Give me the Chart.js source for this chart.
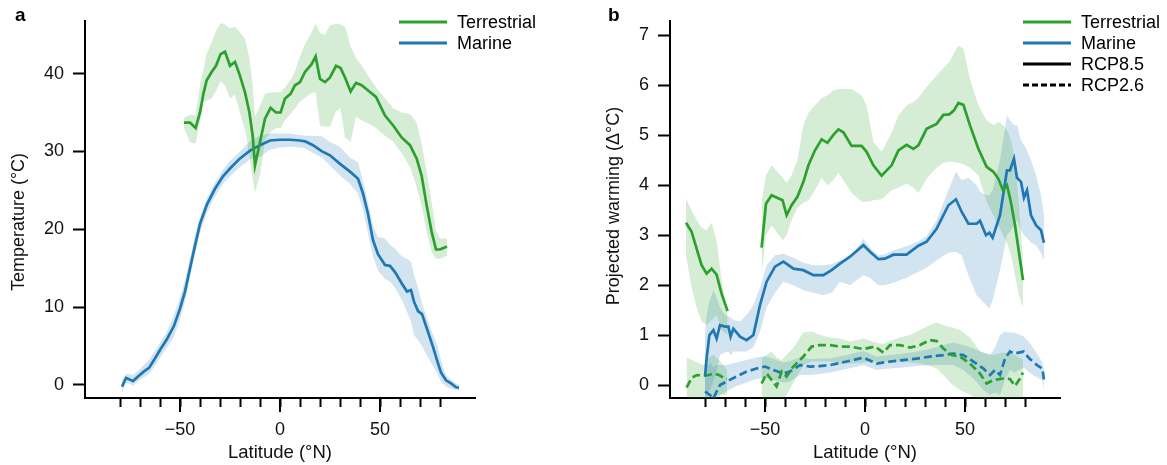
<!DOCTYPE html>
<html>
<head>
<meta charset="utf-8">
<script src="https://cdn.jsdelivr.net/npm/chart.js@4.4.1/dist/chart.umd.min.js"></script>
<style>
  body { margin: 0; background: #fff; }
  .panel { position: absolute; top: 0; height: 465px; }
  #wrapA { left: 0; width: 583px; }
  #wrapB { left: 583px; width: 584px; }
</style>
</head>
<body>
<div class="panel" id="wrapA"><canvas id="chartA"></canvas></div>
<div class="panel" id="wrapB"><canvas id="chartB"></canvas></div>
<script>
// ---- axis ticks ----
const latTicks = [-80, -70, -60, -50, -40, -30, -20, -10, 0, 10, 20, 30, 40, 50, 60, 70, 80];
const majorLat = [-50, 0, 50];
const tempTicks = [0, 10, 20, 30, 40];
const warmTicks = [0, 1, 2, 3, 4, 5, 6, 7];

// ---- panel a: present-day temperature ----
const latMarineA = [-79, -77, -75.5, -73.5, -71, -68, -65.5, -63, -60, -56.5, -53, -50, -47.5, -45, -42.5, -40, -36.5, -32.5, -28.5, -25, -20, -15, -10, -5, 0, 5, 10, 12.5, 16.5, 21, 25, 30, 35, 39, 41.5, 44, 46.5, 49, 52.5, 55, 57.5, 61, 63.5, 65.5, 67, 69, 71, 73.5, 76.5, 78.5, 80.5, 83, 85.5, 88, 89.5];
const marineA = [-0.2, 0.9, 0.75, 0.5, 1.1, 1.75, 2.2, 3.2, 4.5, 5.9, 7.6, 9.8, 12.0, 15.0, 17.9, 20.7, 23.2, 25.2, 26.8, 27.8, 29.1, 30.1, 30.8, 31.4, 31.5, 31.5, 31.4, 31.3, 30.8, 30.0, 29.5, 28.4, 27.4, 26.5, 24.6, 22.0, 18.6, 16.8, 15.4, 15.3, 14.5, 13.0, 12.0, 12.2, 10.7, 9.5, 9.1, 7.2, 4.9, 3.2, 1.6, 0.6, 0.2, -0.3, -0.35];
const marineAHi = [0.5, 1.4, 1.4, 1.3, 1.8, 2.6, 3.2, 4.2, 5.4, 6.9, 9.0, 11.2, 13.5, 16.2, 19.2, 21.6, 24.0, 26.0, 27.6, 28.8, 30.0, 31.3, 32.0, 32.3, 32.3, 32.3, 32.1, 32.0, 32.0, 31.9, 31.2, 30.6, 29.2, 28.6, 26.2, 23.4, 20.5, 19.0, 18.8, 18.0, 17.5, 16.5, 16.2, 15.8, 14.2, 12.5, 10.5, 8.5, 6.5, 5.2, 3.2, 1.2, 0.7, 0.2, 0.0];
const marineALo = [-1.0, 0.3, 0.2, -0.1, 0.5, 1.0, 1.4, 2.3, 3.5, 4.8, 6.2, 8.4, 10.8, 13.8, 16.8, 19.6, 22.2, 24.2, 25.8, 26.8, 28.0, 29.0, 29.3, 30.2, 30.5, 30.6, 30.5, 30.4, 29.8, 29.2, 28.2, 26.9, 25.8, 24.6, 22.5, 19.5, 16.5, 14.7, 13.6, 13.3, 12.5, 10.9, 9.4, 8.2, 6.4, 5.8, 5.0, 3.8, 2.4, 1.6, 0.4, -0.2, -0.5, -0.6, -0.6];

const latTerrA = [-48, -45, -42.2, -40, -38.3, -36.7, -34.2, -32, -29.7, -27.5, -25, -22.5, -20, -17.5, -15.3, -13.7, -12.5, -10, -7.5, -4.7, -2, 0.3, 2.5, 5.3, 7.5, 10, 12.5, 15.8, 17.8, 20, 22.5, 25, 28, 30.3, 32.5, 35.3, 38, 40.8, 44.2, 48, 52.5, 56.7, 60.8, 65, 68.3, 70.8, 73.3, 75.8, 78, 80, 83.5];
const terrA = [33.7, 33.7, 33.0, 35.0, 37.4, 39.1, 40.2, 41.0, 42.5, 42.8, 41.0, 41.5, 39.7, 37.6, 35.0, 32.1, 28.2, 31.2, 34.2, 35.6, 35.0, 35.0, 36.8, 37.4, 38.5, 38.9, 40.2, 41.2, 42.2, 39.3, 38.9, 39.5, 41.0, 40.7, 39.5, 37.7, 38.8, 38.5, 37.8, 37.0, 34.6, 33.3, 31.8, 30.8, 29.1, 26.9, 23.1, 19.7, 17.4, 17.4, 17.8];
const terrAHi = [34.3, 34.7, 34.6, 38.5, 40.5, 42.5, 44.0, 45.5, 46.5, 46.3, 45.8, 46.0, 45.3, 44.5, 42.0, 38.5, 34.5, 35.8, 37.4, 37.6, 37.6, 37.6, 38.2, 39.2, 40.3, 42.2, 43.8, 45.3, 46.4, 45.2, 45.0, 46.2, 46.4, 46.3, 46.0, 43.5, 42.0, 41.0, 39.7, 38.2, 36.8, 35.5, 35.0, 34.8, 33.7, 31.0, 27.5, 23.5, 19.8, 18.8, 18.8];
const terrALo = [33.0, 31.2, 31.0, 33.8, 36.3, 36.5, 36.8, 37.8, 39.0, 38.5, 36.8, 37.3, 35.0, 32.8, 29.5, 26.5, 24.7, 27.0, 31.5, 32.5, 33.0, 33.0, 34.0, 34.8, 35.5, 36.4, 36.9, 37.5, 37.6, 33.3, 33.2, 33.2, 35.2, 35.5, 31.8, 31.2, 34.5, 34.0, 33.6, 33.0, 32.0, 31.2, 29.8, 28.0, 25.5, 23.0, 19.7, 17.1, 16.2, 16.2, 16.6];

// ---- panel b: projected warming ----
const latTerr85 = [-89.5, -86.7, -84.2, -81.7, -79.2, -76.7, -74.2, -71.7, -68.7, -60, -51.7, -49.5, -46.7, -41.2, -39.2, -36.7, -33.8, -30.8, -28.3, -25, -21.7, -18.8, -15.8, -13.3, -10.8, -6.7, -1.7, 0.8, 4.2, 8.3, 13.3, 16.7, 20.8, 24.2, 26.7, 30.8, 35.8, 39.2, 42.2, 44.5, 46.7, 49.2, 52.5, 56.7, 60.8, 64.2, 66.7, 69, 71, 73, 75, 77, 79];
const terr85 = [3.25, 3.07, 2.73, 2.4, 2.23, 2.33, 2.21, 1.83, 1.48, null, 2.75, 3.63, 3.8, 3.7, 3.4, 3.6, 3.77, 4.07, 4.4, 4.7, 4.92, 4.85, 5.01, 5.12, 5.06, 4.79, 4.79, 4.67, 4.4, 4.19, 4.4, 4.7, 4.81, 4.73, 4.8, 5.13, 5.23, 5.41, 5.42, 5.5, 5.65, 5.61, 5.2, 4.73, 4.37, 4.27, 4.13, 3.9, 4.0, 3.65, 3.2, 2.65, 2.1];
const terr85Hi = [3.73, 3.5, 3.3, 3.15, 3.1, 3.25, 2.9, 2.1, 1.4, null, 3.67, 4.2, 4.4, 4.15, 4.05, 4.2, 4.5, 5.2, 5.45, 5.6, 5.75, 5.8, 5.9, 5.93, 5.93, 5.93, 5.8, 5.6, 4.87, 4.67, 5.05, 5.4, 5.6, 5.67, 5.75, 5.97, 6.2, 6.35, 6.47, 6.65, 6.8, 6.73, 6.13, 5.6, 5.3, 5.2, 5.27, 5.2, 5.1, 4.9, 4.5, 3.6, 2.5];
const terr85Lo = [2.6, 1.95, 1.55, 1.27, 1.2, 1.3, 1.4, 1.1, 1.0, null, 2.2, 3.0, 3.2, 2.9, 3.0, 3.3, 3.55, 3.65, 3.7, 3.9, 4.15, 4.0, 4.1, 4.25, 4.1, 3.85, 3.67, 3.67, 3.7, 3.72, 3.9, 3.95, 4.03, 3.95, 3.85, 4.13, 4.35, 4.45, 4.47, 4.47, 4.45, 4.42, 4.35, 4.2, 3.67, 3.4, 3.2, 3.0, 2.85, 2.6, 2.2, 1.8, 1.55];

const latMar85 = [-80, -79.2, -77.8, -75.8, -74.2, -72.5, -70, -68.3, -67.2, -65.8, -62.5, -59.2, -55.8, -52.5, -49.2, -45, -40.8, -35.8, -30.8, -25.8, -20.8, -16.7, -12.5, -7.5, -0.8, 2.5, 6.7, 10, 14.2, 20.8, 26.7, 30.8, 35.8, 41.7, 45.5, 48.3, 51.7, 55.8, 57.5, 60.5, 62.2, 63.8, 67.5, 71, 72.5, 74.5, 76, 78, 79.5, 81, 83, 85.5, 88, 89.5];
const mar85 = [0.17, 0.53, 1.0, 1.1, 0.93, 1.2, 1.17, 1.17, 0.97, 1.13, 0.97, 0.9, 1.0, 1.6, 2.07, 2.37, 2.47, 2.33, 2.3, 2.2, 2.2, 2.3, 2.43, 2.57, 2.8, 2.67, 2.52, 2.53, 2.61, 2.61, 2.79, 2.87, 3.13, 3.6, 3.72, 3.47, 3.23, 3.23, 3.29, 3.0, 3.05, 2.95, 3.4, 4.3, 4.3, 4.53, 4.15, 4.07, 3.75, 3.9, 3.4, 3.2, 3.1, 2.85];
const mar85Hi = [1.0, 1.4, 1.67, 1.9, 1.75, 1.55, 1.4, 1.37, 1.35, 1.3, 1.27, 1.4, 1.6, 1.95, 2.4, 2.6, 2.63, 2.55, 2.45, 2.4, 2.4, 2.42, 2.5, 2.55, 2.93, 2.75, 2.6, 2.62, 2.7, 2.78, 2.88, 2.98, 3.3, 3.9, 4.27, 4.1, 4.15, 4.0, 3.87, 3.8, 3.8, 3.9, 4.5, 5.4, 5.3, 5.2, 5.2, 4.9, 4.8, 4.7, 4.5, 4.2, 3.8, 3.4];
const mar85Lo = [-0.3, -0.27, -0.1, 0.07, 0.3, 0.6, 0.65, 0.67, 0.6, 0.67, 0.67, 0.67, 0.75, 1.07, 1.55, 1.85, 2.07, 2.0, 1.9, 1.85, 1.8, 1.85, 2.07, 2.0, 2.2, 2.15, 2.0, 2.0, 2.05, 2.15, 2.27, 2.35, 2.5, 2.65, 2.67, 2.6, 2.2, 1.8, 1.73, 1.6, 1.53, 1.7, 2.3, 3.0, 3.07, 3.2, 3.3, 3.1, 3.0, 2.95, 2.85, 2.8, 2.65, 2.5];

const latTerr26 = [-89.2, -86.5, -84, -80.8, -78, -75.8, -73, -70, -69, -60, -51.7, -49.2, -46.7, -44.2, -41.7, -39.2, -35.8, -30.8, -26.7, -22.5, -17.5, -12.5, -7.5, -0.8, 5, 9.2, 12.5, 17.5, 22.5, 27.5, 32.5, 35.8, 39.2, 43.3, 47.5, 52.5, 57.5, 60.8, 64.2, 69.2, 72.5, 75, 77, 79];
const terr26 = [-0.05, 0.15, 0.2, 0.19, 0.2, 0.23, 0.2, 0.13, 0.12, null, 0.03, 0.23, 0.1, -0.03, 0.27, 0.17, 0.37, 0.57, 0.77, 0.8, 0.8, 0.77, 0.77, 0.72, 0.77, 0.65, 0.8, 0.8, 0.75, 0.8, 0.9, 0.88, 0.73, 0.6, 0.57, 0.43, 0.23, 0.03, 0.1, 0.13, 0.12, -0.02, 0.1, 0.25];
const terr26Hi = [0.55, 0.5, 0.45, 0.4, 0.55, 0.6, 0.5, 0.35, 0.3, null, 0.53, 0.6, 0.67, 0.55, 0.5, 0.6, 0.75, 1.05, 1.07, 1.0, 0.95, 0.93, 0.87, 0.93, 0.85, 0.82, 0.88, 0.95, 1.0, 1.1, 1.2, 1.25, 1.2, 1.15, 1.1, 0.95, 0.67, 0.63, 0.6, 0.65, 0.65, 0.6, 0.55, 0.5];
const terr26Lo = [-0.5, -0.4, -0.35, -0.3, -0.3, -0.25, -0.2, -0.2, -0.2, null, -0.4, -0.35, -0.35, -0.35, -0.3, -0.2, 0.05, 0.4, 0.47, 0.47, 0.47, 0.42, 0.43, 0.45, 0.47, 0.45, 0.47, 0.47, 0.45, 0.43, 0.38, 0.33, 0.2, 0.02, -0.1, -0.2, -0.3, -0.35, -0.35, -0.35, -0.35, -0.35, -0.35, -0.3];

const latMar26 = [-80, -77.5, -75.8, -74.2, -72.5, -69.2, -64.2, -59.2, -54.2, -50, -45.8, -40.8, -37.5, -32.5, -27.5, -22.5, -17.5, -9.2, -0.8, 5.8, 12.5, 19.2, 25.8, 32.5, 39.2, 44.2, 49.2, 54.2, 59.2, 62.5, 65, 67.5, 70, 72.5, 74.7, 79.3, 82.2, 86, 88.7, 89.5];
const mar26 = [-0.13, -0.2, -0.27, -0.13, 0.0, 0.07, 0.17, 0.27, 0.33, 0.37, 0.3, 0.23, 0.27, 0.4, 0.37, 0.38, 0.4, 0.47, 0.55, 0.43, 0.47, 0.5, 0.53, 0.57, 0.6, 0.63, 0.6, 0.47, 0.33, 0.2, 0.3, 0.2, 0.53, 0.67, 0.63, 0.67, 0.53, 0.4, 0.33, 0.1];
const mar26Hi = [0.3, 0.45, 0.35, 0.4, 0.4, 0.4, 0.45, 0.5, 0.55, 0.58, 0.52, 0.45, 0.48, 0.55, 0.52, 0.53, 0.53, 0.6, 0.68, 0.57, 0.6, 0.63, 0.67, 0.72, 0.8, 0.85, 0.8, 0.73, 0.65, 0.6, 0.75, 1.0, 1.07, 1.05, 1.05, 0.97, 0.85, 0.63, 0.45, 0.3];
const mar26Lo = [-0.5, -0.45, -0.45, -0.35, -0.2, -0.13, -0.02, 0.05, 0.12, 0.15, 0.1, 0.05, 0.07, 0.2, 0.2, 0.22, 0.25, 0.32, 0.4, 0.3, 0.33, 0.35, 0.38, 0.4, 0.4, 0.4, 0.3, 0.13, -0.1, -0.2, -0.15, -0.2, 0.1, 0.3, 0.25, 0.35, 0.25, 0.15, 0.1, -0.1];

const GREEN = '#2ca02c';
const BLUE = '#1f77b4';
const GREEN_BAND = 'rgba(44, 160, 44, 0.2)';
const BLUE_BAND = 'rgba(31, 119, 180, 0.2)';
const FONT = '"Liberation Sans", Arial, Helvetica, sans-serif';

function pts(lat, vals) {
    return lat.map((x, i) => ({ x: x, y: vals[i] }));
}

function line(lat, vals, color, dash) {
    return {
        data: pts(lat, vals),
        borderColor: color,
        borderWidth: 2.7,
        borderDash: dash || [],
        pointRadius: 0,
        tension: 0,
        fill: false
    };
}

// upper edge fills down to the lower edge that follows it
function band(lat, hi, lo, color) {
    return [
        { data: pts(lat, hi), borderColor: 'transparent', borderWidth: 0, pointRadius: 0, fill: '+1', backgroundColor: color },
        { data: pts(lat, lo), borderColor: 'transparent', borderWidth: 0, pointRadius: 0, fill: false }
    ];
}

// panel letter, y title, legend and the longer major ticks
const overlay = {
    id: 'overlay',
    afterDraw(chart, args, opts) {
        const ctx = chart.ctx;
        ctx.save();
        ctx.fillStyle = '#000';
        ctx.textBaseline = 'middle';
        ctx.font = 'bold 19px ' + FONT;
        ctx.fillText(opts.letter, opts.letterX, 16);

        ctx.font = '18px ' + FONT;
        ctx.save();
        ctx.translate(opts.titleX, opts.titleY);
        ctx.rotate(-Math.PI / 2);
        ctx.textAlign = 'center';
        ctx.fillStyle = '#111';
        ctx.fillText(opts.yTitle, 0, 0);
        ctx.restore();

        opts.items.forEach((item, i) => {
            const y = 22 + i * 21;
            ctx.strokeStyle = item.color;
            ctx.lineWidth = 3;
            ctx.setLineDash(item.dash || []);
            ctx.beginPath();
            ctx.moveTo(opts.legendX, y);
            ctx.lineTo(opts.legendX + 48, y);
            ctx.stroke();
            ctx.fillText(item.text, opts.legendX + 58, y + 1);
        });

        const xs = chart.scales.x;
        ctx.setLineDash([]);
        ctx.strokeStyle = '#000';
        ctx.lineWidth = 2;
        majorLat.forEach(v => {
            const px = Math.round(xs.getPixelForValue(v));
            ctx.beginPath();
            ctx.moveTo(px, xs.top);
            ctx.lineTo(px, xs.top + 14);
            ctx.stroke();
        });
        ctx.restore();
    }
};

function makeChart(id, datasets, yMin, yMax, yTicks, yWidth, padRight, over) {
    return new Chart(document.getElementById(id).getContext('2d'), {
        type: 'line',
        data: { datasets: datasets },
        plugins: [overlay],
        options: {
            responsive: true,
            maintainAspectRatio: false,
            animation: false,
            events: [],
            layout: { padding: { top: 21, right: padRight, bottom: 0, left: 0 } },
            plugins: {
                legend: { display: false },
                tooltip: { enabled: false },
                filler: { drawTime: 'beforeDatasetsDraw' },
                overlay: over
            },
            scales: {
                x: {
                    type: 'linear',
                    min: -97.5,
                    max: 97.5,
                    afterBuildTicks: s => { s.ticks = latTicks.map(v => ({ value: v })); },
                    afterFit: s => { s.height = 67; },
                    ticks: {
                        autoSkip: false,
                        maxRotation: 0,
                        padding: 12,
                        color: '#111',
                        font: { family: FONT, size: 18 },
                        callback: v => majorLat.includes(v) ? (v < 0 ? '\u2212' + Math.abs(v) : String(v)) : ''
                    },
                    grid: { drawOnChartArea: false, tickLength: 9, tickWidth: 2, tickColor: '#000' },
                    border: { color: '#000', width: 2 },
                    title: {
                        display: true,
                        text: 'Latitude (\u00b0N)',
                        color: '#111',
                        font: { family: FONT, size: 18.5 },
                        padding: { top: 0, bottom: 1 }
                    }
                },
                y: {
                    min: yMin,
                    max: yMax,
                    afterBuildTicks: s => { s.ticks = yTicks.map(v => ({ value: v })); },
                    afterFit: s => { s.width = yWidth; },
                    ticks: {
                        padding: 9,
                        color: '#111',
                        font: { family: FONT, size: 18 }
                    },
                    grid: { drawOnChartArea: false, tickLength: 12, tickWidth: 2, tickColor: '#000' },
                    border: { color: '#000', width: 2 }
                }
            }
        }
    });
}

document.addEventListener('DOMContentLoaded', function () {
    const dsA = [
        line(latTerrA, terrA, GREEN),
        line(latMarineA, marineA, BLUE),
        ...band(latTerrA, terrAHi, terrALo, GREEN_BAND),
        ...band(latMarineA, marineAHi, marineALo, BLUE_BAND)
    ];
    makeChart('chartA', dsA, -1.67, 46.75, tempTicks, 85, 108, {
        letter: 'a', letterX: 15, legendX: 399,
        yTitle: 'Temperature (\u00b0C)', titleX: 19, titleY: 222,
        items: [
            { text: 'Terrestrial', color: GREEN },
            { text: 'Marine', color: BLUE }
        ]
    });

    const dsB = [
        line(latTerr85, terr85, GREEN),
        line(latMar85, mar85, BLUE),
        line(latTerr26, terr26, GREEN, [8, 4]),
        line(latMar26, mar26, BLUE, [8, 4]),
        ...band(latTerr85, terr85Hi, terr85Lo, GREEN_BAND),
        ...band(latMar85, mar85Hi, mar85Lo, BLUE_BAND),
        ...band(latTerr26, terr26Hi, terr26Lo, GREEN_BAND),
        ...band(latMar26, mar26Hi, mar26Lo, BLUE_BAND)
    ];
    makeChart('chartB', dsB, -0.26, 7.29, warmTicks, 87, 107, {
        letter: 'b', letterX: 25, legendX: 440,
        yTitle: 'Projected warming (\u0394\u00b0C)', titleX: 31, titleY: 206,
        items: [
            { text: 'Terrestrial', color: GREEN },
            { text: 'Marine', color: BLUE },
            { text: 'RCP8.5', color: '#000' },
            { text: 'RCP2.6', color: '#000', dash: [6, 3] }
        ]
    });
});
</script>
</body>
</html>
